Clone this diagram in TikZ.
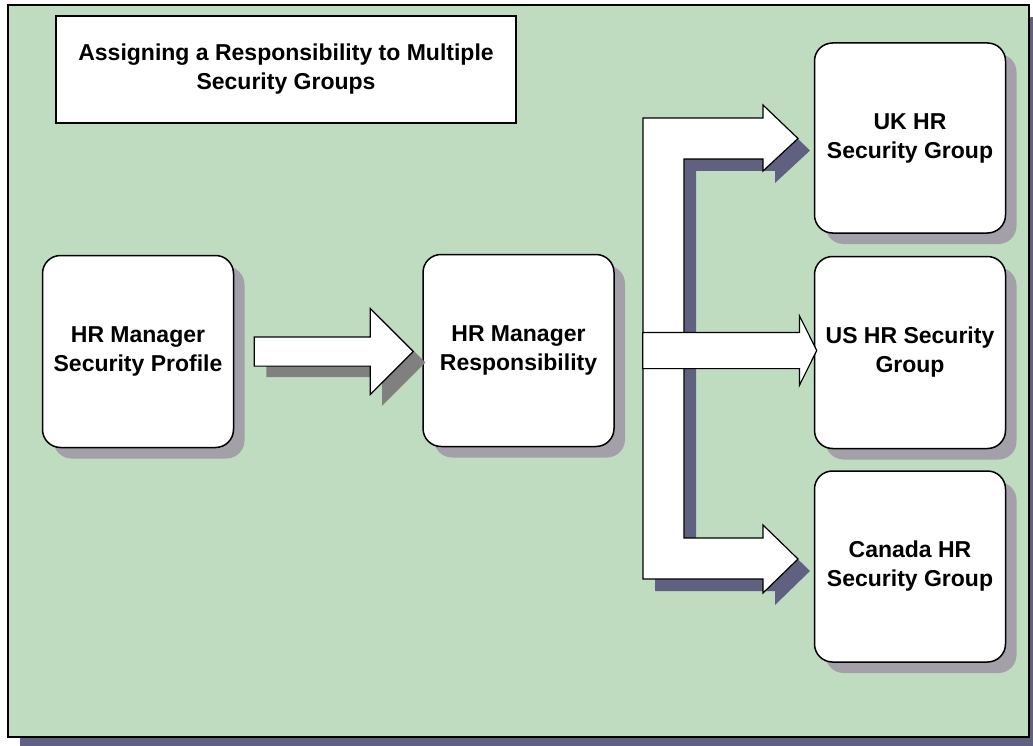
\documentclass[tikz,border=0pt]{standalone}
\usepackage{fontspec}
\setmainfont{Liberation Sans}
\usetikzlibrary{positioning,shadows,shapes.arrows}

\definecolor{paneGreen}{RGB}{192,220,192}
\definecolor{paneShadow}{RGB}{96,96,128}
\definecolor{boxShadow}{RGB}{164,160,170}
\definecolor{arrowShadow}{RGB}{128,128,128}

\begin{document}
\begin{tikzpicture}[x=1pt,y=-1pt,line join=miter,
                    font=\fontsize{23}{29}\selectfont\bfseries]

  \tikzstyle{box}=[rectangle,draw,line width=1.5pt,fill=white,rounded corners=18pt,
                   minimum width=191pt,minimum height=192pt,align=center,
                   drop shadow={shadow xshift=11pt,shadow yshift=-11pt,opacity=1,fill=boxShadow}]
  \tikzstyle{bigarrow}=[single arrow,draw,line width=1.2pt,fill=white,
                        inner sep=0pt,outer sep=0pt,text depth=0pt,
                        single arrow head indent=0pt]

  \useasboundingbox (0,0) rectangle (1033,746);

  % pane and its shadow
  \fill[paneShadow] (20,17) rectangle (1033,746);
  \draw[line width=2pt,fill=paneGreen] (8,5) rectangle (1029,737);

  \node[draw,line width=1.5pt,fill=white,minimum width=460pt,minimum height=107pt,
        align=center] (title) at (286,69.5)
        {Assigning a Responsibility to Multiple\\Security Groups};

  \node[box] (profile) at (138,351.5) {HR Manager\\Security Profile};
  \node[box] (resp)    at (518.5,350.5) {HR Manager\\Responsibility};

  \node[box,minimum height=190pt] (uk) at (910,138) {UK HR\\Security Group};
  \node[box,below=22pt of uk]                     (us)     {US HR Security\\Group};
  \node[box,minimum height=191pt,below=21pt of us] (canada) {Canada HR\\Security Group};

  % profile -> responsibility
  \node[bigarrow,right=20pt of profile,minimum height=159pt,text height=28pt,
        single arrow head extend=28.5pt,single arrow tip angle=90,
        drop shadow={shadow xshift=12pt,shadow yshift=-11pt,opacity=1,fill=arrowShadow}]
        (flow) {};

  % responsibility -> groups
  \draw[line width=1.2pt,fill=white,
        drop shadow={shadow xshift=12pt,shadow yshift=-12pt,opacity=1,fill=paneShadow}]
    (643,118) -- (763,118) -- (763,105) -- (798,138.5) -- (763,171) -- (763,159)
    -- (684,159) -- (684,538) -- (763,538) -- (763,525) -- (798,559) -- (763,593)
    -- (763,579) -- (643,579) -- cycle;
  \node[bigarrow,right=28pt of resp,minimum height=174pt,text height=35pt,
        single arrow head extend=16.5pt,single arrow tip angle=127]
        (split) {};

\end{tikzpicture}
\end{document}
